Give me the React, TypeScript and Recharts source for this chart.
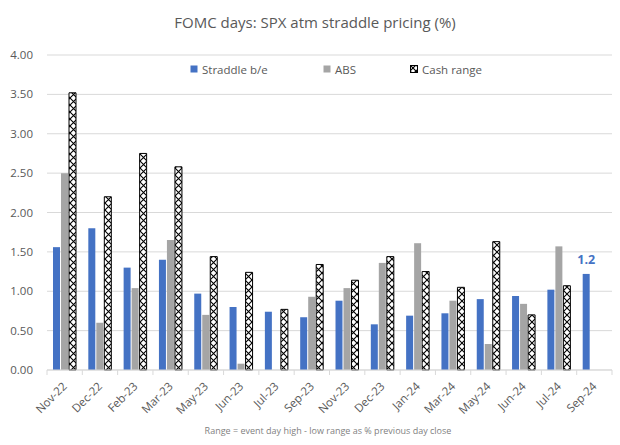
import { BarChart, Bar, XAxis, YAxis, CartesianGrid, LabelList } from 'recharts';

const months = ['Nov-22', 'Dec-22', 'Feb-23', 'Mar-23', 'May-23', 'Jun-23', 'Jul-23', 'Sep-23', 'Nov-23', 'Dec-23', 'Jan-24', 'Mar-24', 'May-24', 'Jun-24', 'Jul-24', 'Sep-24'];
const straddle = [1.56, 1.8, 1.3, 1.4, 0.97, 0.8, 0.74, 0.67, 0.88, 0.58, 0.69, 0.72, 0.9, 0.94, 1.02, 1.22];
const abs = [2.5, 0.6, 1.04, 1.65, 0.7, 0.08, null, 0.93, 1.04, 1.36, 1.61, 0.88, 0.33, 0.84, 1.57, null];
const cashRange = [3.52, 2.2, 2.75, 2.58, 1.44, 1.24, 0.77, 1.34, 1.14, 1.44, 1.25, 1.05, 1.63, 0.7, 1.07, null];
const yTicks = [0, 0.5, 1, 1.5, 2, 2.5, 3, 3.5, 4];

const data = months.map((m, i) => ({
  name: m,
  straddle: straddle[i],
  abs: abs[i],
  cash: cashRange[i],
}));

const FONT = '"Open Sans", sans-serif';
const BLUE = '#4472c4';
const GRAY = '#a5a5a5';
const TEXT = '#595959';

const XTick = (props: any) => {
  const { x, y, payload, index, width, visibleTicksCount } = props;
  const band = width / visibleTicksCount;
  const left = x - band / 2;
  return (
    <g>
      <line x1={left} y1={y - 8} x2={left} y2={y - 3} stroke='#d9d9d9' />
      {index === visibleTicksCount - 1 && (
        <line x1={x + band / 2} y1={y - 8} x2={x + band / 2} y2={y - 3} stroke='#d9d9d9' />
      )}
      <text
        x={x + 3}
        y={y + 9}
        textAnchor='end'
        transform={`rotate(-45, ${x + 3}, ${y + 9})`}
        fontSize={11.5}
        fill={TEXT}
        fontFamily={FONT}
      >
        {payload.value}
      </text>
    </g>
  );
};

const YTick = (props: any) => {
  const { x, y, payload } = props;
  return (
    <text x={x - 6} y={y} dy={4} textAnchor='end' fontSize={11.5} fill={TEXT} fontFamily={FONT}>
      {Number(payload.value).toFixed(2)}
    </text>
  );
};

const legendItems = [
  { label: 'Straddle b/e', fill: BLUE, width: 133 },
  { label: 'ABS', fill: GRAY, width: 87 },
  { label: 'Cash range', fill: 'url(#hatchL)', width: 80 },
];

export default function App() {
  return (
    <div style={{ position: 'relative', width: 620, height: 445, background: '#fff', fontFamily: FONT }}>
      <style>{'body{margin:0}'}</style>
      <div style={{ position: 'absolute', top: 12, left: 0, width: 620, textAlign: 'center', fontSize: 15, color: TEXT }}>
        <span style={{ position: 'relative', left: 5 }}>FOMC days: SPX atm straddle pricing (%)</span>
      </div>
      <div style={{ position: 'absolute', top: 62, left: 190, display: 'flex', fontSize: 11.5, color: TEXT }}>
        <svg width={0} height={0} style={{ position: 'absolute' }}>
          <defs>
            <pattern id='hatchL' width='6' height='6' patternUnits='userSpaceOnUse'>
              <rect width='6' height='6' fill='#fff' />
              <path d='M0,0 L6,6 M6,0 L0,6' stroke='#000' strokeWidth={1.2} />
            </pattern>
          </defs>
        </svg>
        {legendItems.map((it) => (
          <div key={it.label} style={{ display: 'flex', alignItems: 'center', width: it.width }}>
            <svg width={9} height={9} style={{ marginRight: 3 }}>
              <rect x={0.5} y={0.5} width={7} height={7} fill={it.fill} stroke={it.label === 'Cash range' ? '#000' : 'none'} />
            </svg>
            <span>{it.label}</span>
          </div>
        ))}
      </div>
      <BarChart
        width={620}
        height={445}
        data={data}
        margin={{ top: 55, right: 8, bottom: 0, left: 0 }}
        barSize={7}
        barGap={1}
      >
        <defs>
          <pattern id='hatch' width='7' height='7' patternUnits='userSpaceOnUse'>
            <rect width='7' height='7' fill='#fff' />
            <path d='M0,0 L7,7 M7,0 L0,7' stroke='#000' strokeWidth={1.1} />
          </pattern>
        </defs>
        <CartesianGrid vertical={false} stroke='#d9d9d9' />
        <XAxis
          dataKey='name'
          interval={0}
          tickLine={false}
          axisLine={{ stroke: '#d9d9d9' }}
          tick={<XTick />}
          height={75}
        />
        <YAxis
          domain={[0, 4]}
          ticks={yTicks}
          axisLine={false}
          tickLine={false}
          width={47}
          tick={<YTick />}
        />
        <Bar dataKey='straddle' fill={BLUE} isAnimationActive={false}>
          <LabelList
            dataKey='straddle'
            content={(p: any) =>
              p.index === months.length - 1 ? (
                <text x={p.x + p.width / 2} y={p.y - 10} textAnchor='middle' fill={BLUE} fontSize={12.5} fontWeight='bold' fontFamily={FONT}>
                  {Number(p.value).toFixed(1)}
                </text>
              ) : null
            }
          />
        </Bar>
        <Bar dataKey='abs' fill={GRAY} isAnimationActive={false} />
        <Bar dataKey='cash' fill='url(#hatch)' stroke='#000' strokeWidth={1} isAnimationActive={false} />
      </BarChart>
      <div style={{ position: 'absolute', top: 424, left: 0, width: 620, textAlign: 'center', fontSize: 9, color: '#7f7f7f' }}>
        <span style={{ position: 'relative', left: 18 }}>Range = event day high - low range as % previous day close</span>
      </div>
    </div>
  );
}
